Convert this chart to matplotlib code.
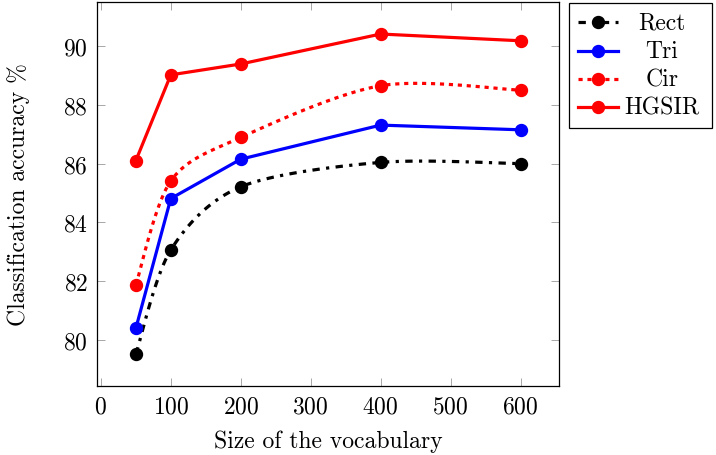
import numpy as np
import matplotlib
matplotlib.use("Agg")
import matplotlib.pyplot as plt
from matplotlib.lines import Line2D
from matplotlib.patches import Rectangle

plt.rcParams['font.family'] = 'serif'
plt.rcParams['font.serif'] = ['cmr10', 'DejaVu Serif']
plt.rcParams['mathtext.fontset'] = 'cm'
plt.rcParams['axes.formatter.use_mathtext'] = True

vocab = [50, 100, 200, 400, 600]
rect = [79.51, 83.06, 85.21, 86.04, 86.00]
tri = [80.39, 84.81, 86.15, 87.31, 87.15]
cir = [81.87, 85.41, 86.89, 88.65, 88.50]
hgsir = [86.10, 89.02, 89.39, 90.41, 90.18]
labels = ['Rect', 'Tri', 'Cir', 'HGSIR']

xticks = [0, 100, 200, 300, 400, 500, 600]
yticks = [80, 82, 84, 86, 88, 90]

W, H = 716, 456
fig = plt.figure(figsize=(W / 100, H / 100), dpi=100)
ax = fig.add_axes([97 / W, 1 - 387 / H, (559 - 97) / W, (387 - 3) / H])
ax.set_xlim(-5.5, 655)
ax.set_ylim(78.43, 91.5)


def smooth(xs, ys, sx, sy, tension=0.15, n=30):
    P = np.column_stack([np.asarray(xs, float) * sx, np.asarray(ys, float) * sy])
    out = [P[0]]
    m = len(P)
    for i in range(m - 1):
        p0 = P[i]
        p3 = P[i + 1]
        prev = P[i - 1] if i > 0 else P[i]
        nxt = P[i + 2] if i + 2 < m else P[i + 1]
        c1 = p0 + tension * (p3 - prev)
        c2 = p3 - tension * (nxt - p0)
        t = np.linspace(0, 1, n)[1:, None]
        seg = ((1 - t) ** 3) * p0 + 3 * ((1 - t) ** 2) * t * c1 + 3 * (1 - t) * t ** 2 * c2 + t ** 3 * p3
        out.extend(seg)
    out = np.array(out)
    return out[:, 0] / sx, out[:, 1] / sy


sx, sy = 0.7, 29.37
lw = 2.3
ms = 8.6
rect_ls = (0, (2.3, 2.0, 1.0, 2.0))
cir_ls = (0, (1.3, 1.5))

xs, ys = smooth(vocab, rect, sx, sy)
ax.plot(xs, ys, color='black', lw=lw, linestyle=rect_ls)
ax.plot(vocab, rect, 'o', color='black', ms=ms)

ax.plot(vocab, tri, color='#0000ff', lw=lw, marker='o', ms=ms)

xs, ys = smooth(vocab, cir, sx, sy)
ax.plot(xs, ys, color='#ff0000', lw=lw, linestyle=cir_ls)
ax.plot(vocab, cir, 'o', color='#ff0000', ms=ms)

ax.plot(vocab, hgsir, color='#ff0000', lw=lw, marker='o', ms=ms)

ax.set_xticks(xticks)
ax.set_yticks(yticks)
ax.tick_params(direction='in', length=6, width=0.6, color='#999999', top=True, right=True,
               labelsize=17, pad=6.5)
for s in ax.spines.values():
    s.set_linewidth(0.9)
ax.set_xlabel('Size of the vocabulary', fontsize=17, labelpad=9)
ax.set_ylabel('Classification accuracy %', fontsize=17, labelpad=24)

# legend drawn manually (pgfplots style, centered labels)
def fx(px):
    return px / W


def fy(py):
    return 1 - py / H


fig.patches.append(Rectangle((fx(569), fy(129)), fx(712) - fx(569), fy(4) - fy(129),
                             transform=fig.transFigure, fill=False, edgecolor='black',
                             linewidth=0.9, zorder=5))
styles = [('black', rect_ls), ('#0000ff', '-'), ('#ff0000', cir_ls), ('#ff0000', '-')]
rows = [23, 52, 80, 108]
for (c, ls), lab, ry in zip(styles, labels, rows):
    fig.lines.append(Line2D([fx(578), fx(618)], [fy(ry), fy(ry)], transform=fig.transFigure,
                            color=c, lw=lw, linestyle=ls))
    fig.lines.append(Line2D([fx(598)], [fy(ry)], transform=fig.transFigure,
                            color=c, marker='o', ms=ms, linestyle='none'))
    fig.text(fx(662), fy(ry), lab, fontsize=17, ha='center', va='center')

fig.savefig('out.png', dpi=100)
